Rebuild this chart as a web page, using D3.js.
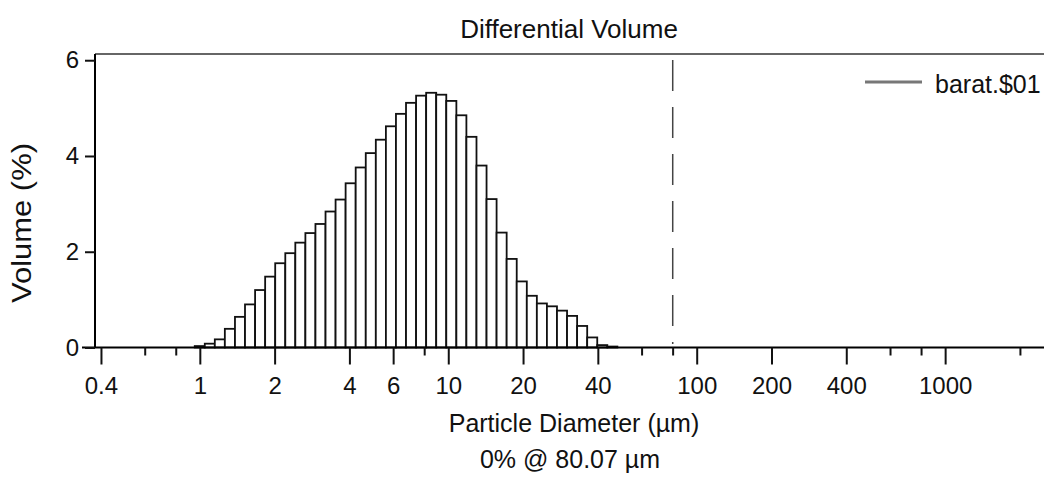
<!DOCTYPE html>
<html>
<head>
<meta charset="utf-8">
<script src="https://cdn.jsdelivr.net/npm/d3@7"></script>
<style>
  html, body { margin: 0; padding: 0; background: #fff; }
  svg { display: block; font-family: "Liberation Sans", Arial, sans-serif; }
</style>
</head>
<body>
<svg id="chart" width="1044" height="491"></svg>
<script>
// limites inferiores de los canales (µm), el último es el límite superior de la última barra
var canales = [0.954, 1.047, 1.149, 1.261, 1.385, 1.520, 1.669, 1.832, 2.011, 2.208,
  2.423, 2.660, 2.920, 3.206, 3.519, 3.862, 4.240, 4.655, 5.110, 5.610,
  6.158, 6.760, 7.421, 8.147, 8.943, 9.818, 10.78, 11.83, 12.99, 14.26,
  15.65, 17.18, 18.86, 20.71, 22.73, 24.95, 27.39, 30.07, 33.01, 36.24,
  39.78, 43.67, 47.94];
// volumen (%) de cada canal
var volumen = [0.03, 0.08, 0.17, 0.39, 0.64, 0.90, 1.20, 1.48, 1.76, 1.97,
  2.19, 2.39, 2.58, 2.84, 3.09, 3.43, 3.76, 4.06, 4.34, 4.62,
  4.88, 5.11, 5.26, 5.32, 5.28, 5.15, 4.85, 4.40, 3.80, 3.10,
  2.40, 1.85, 1.38, 1.08, 0.92, 0.86, 0.77, 0.66, 0.45, 0.21,
  0.05, 0.02];
var ticksMayores = [0.4, 1, 2, 4, 6, 10, 20, 40, 100, 200, 400, 1000];
var ticksMenores = [0.6, 0.8, 8, 60, 80, 600, 800, 2000];
var ticksY = [0, 2, 4, 6];
var marcaDiametro = 80.07;
var titulo = "Differential Volume";
var tituloX = "Particle Diameter (µm)";
var tituloY = "Volume (%)";
var leyenda = "barat.$01";
var nota = "0% @ 80.07 µm";

var svg = d3.select("#chart");

var x = d3.scaleLog().domain([0.375, 2500]).range([94, 1044]);
var y = d3.scaleLinear().domain([0, 6.13]).range([347.5, 54]);

var datos = volumen.map(function (v, i) {
    return { d0: canales[i], d1: canales[i + 1], v: v };
});

//Barras
svg.append("g")
    .selectAll("rect")
    .data(datos)
    .join("rect")
    .attr("x", function (d) { return x(d.d0); })
    .attr("width", function (d) { return x(d.d1) - x(d.d0); })
    .attr("y", function (d) { return y(d.v); })
    .attr("height", function (d) { return y(0) - y(d.v); })
    .style("fill", "#fff")
    .style("stroke", "#111")
    .style("stroke-width", 1.8);

//Línea superior del marco
svg.append("line")
    .attr("x1", 95).attr("x2", 1044)
    .attr("y1", y.range()[1]).attr("y2", y.range()[1])
    .style("stroke", "#666")
    .style("stroke-width", 2);

//Línea discontinua en 80.07 µm
svg.append("line")
    .attr("x1", x(marcaDiametro)).attr("x2", x(marcaDiametro))
    .attr("y1", 60).attr("y2", 344)
    .style("stroke", "#444")
    .style("stroke-width", 1.5)
    .style("stroke-dasharray", "31,16");

//Eje X
var ejeX = svg.append("g")
    .attr("transform", "translate(0," + y(0) + ")")
    .call(d3.axisBottom(x).tickValues(ticksMayores).tickSize(17).tickPadding(12)
        .tickFormat(function (d) { return String(d); }));
svg.append("g")
    .attr("transform", "translate(0," + y(0) + ")")
    .call(d3.axisBottom(x).tickValues(ticksMenores).tickSize(8).tickFormat(""))
    .select(".domain").remove();
ejeX.select(".domain").attr("d", "M82,0H1044").style("stroke-width", 2);

//Eje Y
var ejeY = svg.append("g")
    .attr("transform", "translate(95,0)")
    .call(d3.axisLeft(y).tickValues(ticksY).tickSize(10).tickPadding(6).tickFormat(d3.format("d")));
ejeY.select(".domain").attr("d", "M0," + y.range()[1] + "V" + y(0)).style("stroke-width", 2);

svg.selectAll(".tick line").style("stroke", "#111").style("stroke-width", 2);
svg.selectAll(".tick text")
    .style("font-size", "24px")
    .style("fill", "#111")
    .style("font-family", "'Liberation Sans', Arial, sans-serif");

//Textos
svg.append("text")
    .attr("x", 569).attr("y", 38)
    .attr("text-anchor", "middle")
    .style("font-size", "26px").style("fill", "#111")
    .text(titulo);

svg.append("text")
    .attr("x", 574).attr("y", 432)
    .attr("text-anchor", "middle")
    .style("font-size", "25px").style("fill", "#111")
    .text(tituloX);

svg.append("text")
    .attr("x", 570).attr("y", 468)
    .attr("text-anchor", "middle")
    .style("font-size", "25px").style("fill", "#111")
    .text(nota);

svg.append("text")
    .attr("transform", "translate(31,223) rotate(-90)")
    .attr("text-anchor", "middle")
    .attr("textLength", 160)
    .attr("lengthAdjust", "spacingAndGlyphs")
    .style("font-size", "27px").style("fill", "#111")
    .text(tituloY);

//Leyenda
svg.append("line")
    .attr("x1", 865).attr("x2", 922)
    .attr("y1", 82).attr("y2", 82)
    .style("stroke", "#777")
    .style("stroke-width", 3);
svg.append("text")
    .attr("x", 935).attr("y", 93)
    .style("font-size", "25px").style("fill", "#111")
    .text(leyenda);
</script>
</body>
</html>
